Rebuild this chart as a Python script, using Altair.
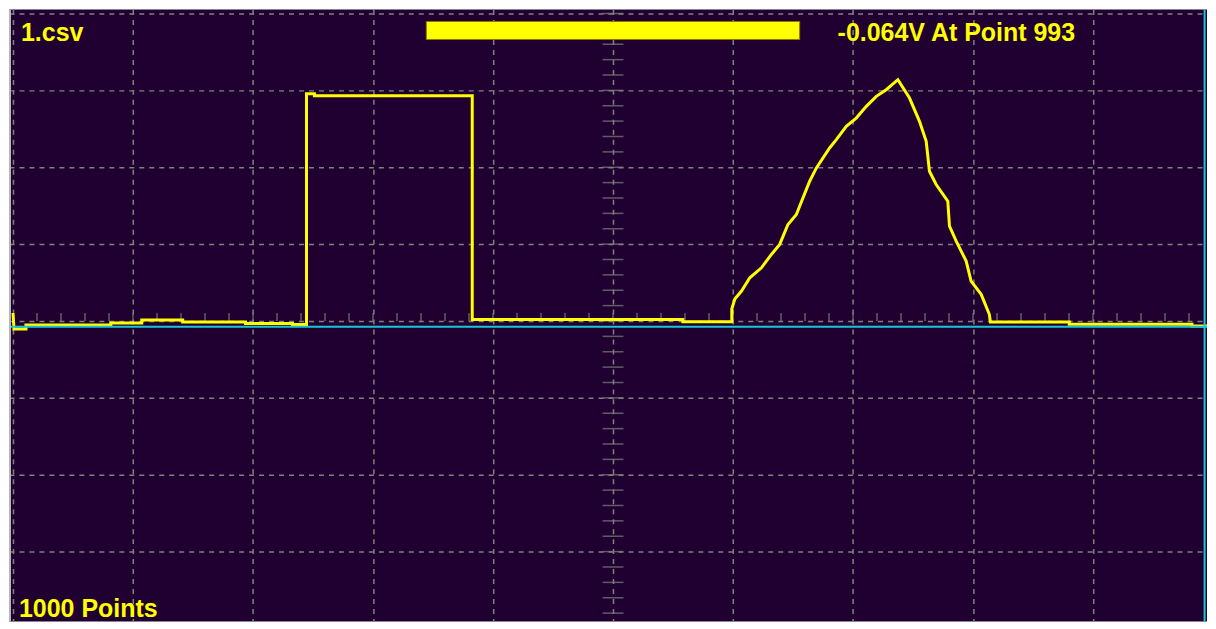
import altair as alt
import pandas as pd

# ---- data (x in points, y in volts) ----
trace_points = [0, 0.8, 0.8, 10.8, 10.8, 81.5, 81.5, 107.3, 107.3, 141.4, 141.4, 193.8, 193.8,
                232.9, 232.9, 244.6, 244.6, 251.2, 251.2, 382.7, 382.7, 558.2, 558.2, 599.0, 599.0,
                601.5, 607.1, 614.0, 623.7, 632.0, 638.9, 645.8, 652.8, 658.3, 663.9, 669.5,
                680.5, 686.1, 694.4, 702.7, 711.1, 719.4, 727.7, 737.4, 747.1, 755.4, 761.0,
                763.7, 769.3, 779.0, 780.4, 786.0, 794.3, 798.4, 806.8, 813.6, 814.5, 880.2,
                880.2, 982.5, 982.5, 999.2]
trace_volts = [0.104, -0.091, -0.104, -0.104, -0.052, -0.052, -0.026, -0.026, 0.013, 0.013,
               -0.013, -0.013, -0.032, -0.032, -0.045, -0.045, 2.955, 2.955, 2.929, 2.929,
               0.019, 0.019, -0.009, -0.009, 0.156,
               0.286, 0.390, 0.562, 0.692, 0.866, 0.996, 1.256, 1.386, 1.601, 1.818, 1.991,
               2.251, 2.360, 2.532, 2.640, 2.792, 2.922, 3.009, 3.139, 2.900, 2.597, 2.338,
               1.948, 1.775, 1.558, 1.234, 1.039, 0.779, 0.519, 0.347, 0.087, -0.013, -0.013,
               -0.043, -0.043, -0.065, -0.065]

cursor_point = [993]
cursor_volts = [-0.074]

grid_points = [0, 100, 200, 300, 400, 500, 600, 700, 800, 900]
grid_volts = [-3, -2, -1, 0, 1, 2, 3, 4]
minor_points = [p for p in range(0, 981, 20)]
minor_volts = [round(-3.8 + 0.2 * k, 1) for k in range(40)]

title_text = ["1.csv"]
cursor_text = ["-0.064V At Point 993"]
count_text = ["1000 Points"]

BG = "#200030"
GRID = "#808080"
YELLOW = "#ffff00"
CYAN = "#19c6d8"

trace = pd.DataFrame({"p": trace_points, "v": trace_volts, "i": range(len(trace_points))})

xscale = alt.Scale(domain=[-3.33, 995.0], nice=False, zero=False)
yscale = alt.Scale(domain=[-3.909, 4.052], nice=False, zero=False)

xaxis = alt.Axis(values=grid_points, grid=True, labels=False, ticks=False, domain=False,
                 title=None, gridColor=GRID, gridDash=[5, 5], gridWidth=1.5)
yaxis = alt.Axis(values=grid_volts, grid=True, labels=False, ticks=False, domain=False,
                 title=None, gridColor=GRID, gridDash=[5, 5], gridWidth=1.5)

line = alt.Chart(trace).mark_line(color=YELLOW, strokeWidth=3, strokeJoin="miter", clip=True).encode(
    x=alt.X("p:Q", scale=xscale, axis=xaxis),
    y=alt.Y("v:Q", scale=yscale, axis=yaxis),
    order=alt.Order("i:Q"),
)

hticks = alt.Chart(pd.DataFrame({"p": minor_points, "v": [0] * len(minor_points)})).mark_tick(
    orient="vertical", size=8, thickness=1.5, yOffset=-4, color=GRID
).encode(x=alt.X("p:Q", scale=xscale), y=alt.Y("v:Q", scale=yscale))

vticks = alt.Chart(pd.DataFrame({"p": [500] * len(minor_volts), "v": minor_volts})).mark_tick(
    orient="horizontal", size=21, thickness=1.5, color=GRID
).encode(x=alt.X("p:Q", scale=xscale), y=alt.Y("v:Q", scale=yscale))

hcursor = alt.Chart(pd.DataFrame({"v": cursor_volts})).mark_rule(color=CYAN, strokeWidth=2).encode(
    y=alt.Y("v:Q", scale=yscale))
vcursor = alt.Chart(pd.DataFrame({"p": cursor_point})).mark_rule(color=CYAN, strokeWidth=2).encode(
    x=alt.X("p:Q", scale=xscale))

left_edge = alt.Chart(pd.DataFrame({"a": [0]})).mark_rule(color="#b8b8b8", strokeWidth=2).encode(
    x=alt.value(1))

bar = alt.Chart(pd.DataFrame({"a": [0]})).mark_rect(
    color=YELLOW, stroke="#8a7d00", strokeWidth=1
).encode(x=alt.value(418), x2=alt.value(792), y=alt.value(12), y2=alt.value(30))

font = dict(font="Liberation Sans", fontWeight="bold", fontSize=25, color=YELLOW,
            align="left", baseline="alphabetic")

t1 = alt.Chart(pd.DataFrame({"t": title_text})).mark_text(**font).encode(
    text="t:N", x=alt.value(12), y=alt.value(32))
t2 = alt.Chart(pd.DataFrame({"t": cursor_text})).mark_text(**font).encode(
    text="t:N", x=alt.value(830), y=alt.value(32))
t3 = alt.Chart(pd.DataFrame({"t": count_text})).mark_text(**font).encode(
    text="t:N", x=alt.value(10), y=alt.value(609))

chart = alt.layer(hticks, vticks, line, hcursor, vcursor, left_edge, bar, t1, t2, t3).properties(
    width=1200, height=613, padding=0, background="white"
).configure_view(fill=BG, stroke=None)

chart.save("out.html", embed_options={"renderer": "svg", "actions": False})
